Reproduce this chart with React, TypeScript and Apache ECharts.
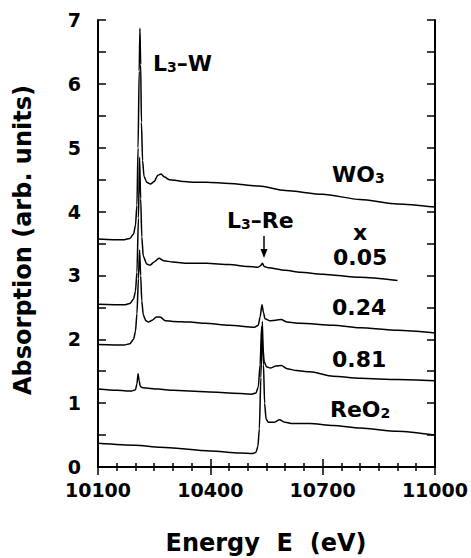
import React, { useEffect, useRef } from "react";
import * as echarts from "echarts";

// Energy (eV) / absorption pairs
const wo3: [number, number][] = [
  [10100, 3.57], [10140, 3.56], [10170, 3.56], [10185, 3.58], [10195, 3.65], [10200, 3.78],
  [10204, 4.1], [10207, 5.0], [10210, 6.2], [10212, 6.87], [10214, 6.3], [10216, 5.4],
  [10219, 4.8], [10223, 4.55], [10230, 4.46], [10240, 4.43], [10250, 4.47], [10260, 4.57],
  [10268, 4.59], [10278, 4.54], [10290, 4.5], [10305, 4.49], [10330, 4.47], [10360, 4.46],
  [10390, 4.46], [10450, 4.44], [10530, 4.4], [10600, 4.33], [10700, 4.27], [10800, 4.19],
  [10900, 4.12], [11000, 4.07],
];
const x005: [number, number][] = [
  [10100, 2.55], [10170, 2.54], [10185, 2.56], [10195, 2.63], [10200, 2.75], [10204, 3.05],
  [10208, 3.9], [10211, 4.85], [10214, 4.2], [10217, 3.6], [10221, 3.3], [10230, 3.18],
  [10239, 3.16], [10250, 3.21], [10263, 3.27], [10275, 3.23], [10300, 3.21], [10340, 3.19],
  [10390, 3.19], [10450, 3.17], [10500, 3.14], [10528, 3.13], [10534, 3.15], [10539, 3.19],
  [10544, 3.14], [10555, 3.12], [10600, 3.08], [10640, 3.05], [10700, 3.02], [10800, 2.97],
  [10900, 2.92],
];
const x024: [number, number][] = [
  [10100, 1.92], [10170, 1.91], [10185, 1.93], [10195, 2.0], [10200, 2.12], [10204, 2.4],
  [10208, 2.95], [10211, 3.4], [10214, 3.0], [10217, 2.6], [10221, 2.38], [10228, 2.29],
  [10234, 2.27], [10245, 2.3], [10256, 2.35], [10266, 2.35], [10280, 2.29], [10300, 2.28],
  [10346, 2.27], [10386, 2.25], [10450, 2.22], [10519, 2.19], [10528, 2.22], [10533, 2.35],
  [10538, 2.54], [10542, 2.42], [10546, 2.32], [10560, 2.29], [10575, 2.3], [10589, 2.31],
  [10605, 2.27], [10640, 2.25], [10728, 2.22], [10800, 2.18], [10900, 2.14], [11000, 2.1],
];
const x081: [number, number][] = [
  [10100, 1.22], [10150, 1.2], [10190, 1.19], [10200, 1.21], [10204, 1.3], [10207, 1.46],
  [10210, 1.35], [10213, 1.26], [10220, 1.24], [10260, 1.22], [10300, 1.2], [10386, 1.18],
  [10450, 1.16], [10511, 1.14], [10522, 1.16], [10528, 1.25], [10533, 1.6], [10537, 2.2],
  [10540, 1.9], [10544, 1.65], [10550, 1.57], [10560, 1.55], [10575, 1.58], [10590, 1.59],
  [10605, 1.54], [10630, 1.51], [10666, 1.49], [10728, 1.42], [10800, 1.39], [10900, 1.37],
  [11000, 1.35],
];
const reo2: [number, number][] = [
  [10100, 0.37], [10200, 0.34], [10266, 0.31], [10400, 0.25], [10479, 0.22], [10514, 0.21],
  [10522, 0.23], [10527, 0.32], [10531, 0.6], [10535, 1.4], [10539, 2.28], [10542, 1.6],
  [10545, 1.0], [10549, 0.75], [10555, 0.7], [10570, 0.7], [10585, 0.74], [10600, 0.7],
  [10620, 0.68], [10666, 0.68], [10728, 0.65], [10800, 0.61], [10900, 0.56], [11000, 0.5],
];
const spectra = [wo3, x005, x024, x081, reo2];

const xTicks = { min: 10100, max: 11000, interval: 300 };
const yTicks = { min: 0, max: 7, interval: 1 };

const FONT = "DejaVu Sans";

export default function App() {
  const ref = useRef<HTMLDivElement>(null);
  useEffect(() => {
    if (!ref.current) return;
    const chart = echarts.init(ref.current, undefined, { renderer: "svg" });
    const axisLine = { show: true, lineStyle: { color: "#000", width: 2 } };
    const labelStyle = {
      color: "#000",
      fontSize: 19,
      fontWeight: "bold",
      fontFamily: FONT,
      formatter: (v: number) => String(v),
    };
    const xBase = {
      type: "value",
      min: xTicks.min,
      max: xTicks.max,
      interval: xTicks.interval,
      axisLine,
      axisTick: { show: true, inside: true, length: 8, lineStyle: { color: "#000", width: 1.5 } },
      minorTick: { show: true, splitNumber: 6, length: 4, lineStyle: { color: "#000", width: 1.5 } },
      splitLine: { show: false },
      minorSplitLine: { show: false },
    };
    const yBase = {
      type: "value",
      min: yTicks.min,
      max: yTicks.max,
      interval: yTicks.interval,
      axisLine,
      axisTick: { show: true, inside: true, length: 8, lineStyle: { color: "#000", width: 1.5 } },
      minorTick: { show: true, splitNumber: 2, length: 8, lineStyle: { color: "#000", width: 1.5 } },
      splitLine: { show: false },
      minorSplitLine: { show: false },
    };
    const big = { fontSize: 22, fontWeight: "bold", fontFamily: FONT, fill: "#000" };
    const rich = {
      m: { fontSize: 22, fontWeight: "bold", fontFamily: FONT, color: "#000", lineHeight: 22 },
      s: { fontSize: 14, fontWeight: "bold", fontFamily: FONT, color: "#000", lineHeight: 4, verticalAlign: "bottom" },
    };
    const txt = (x: number, y: number, text: string, align = "left") => ({
      type: "text",
      x,
      y,
      style: { text, ...big, textAlign: align, textVerticalAlign: "middle", rich },
    });
    chart.setOption({
      animation: false,
      backgroundColor: "#fff",
      grid: { left: 98, right: 36, top: 20, bottom: 91, containLabel: false },
      xAxis: [
        { ...xBase, position: "bottom", axisLabel: { ...labelStyle, margin: 13 } },
        { ...xBase, position: "top", axisLabel: { show: false } },
      ],
      yAxis: [
        { ...yBase, position: "left", axisLabel: { ...labelStyle, margin: 17 } },
        { ...yBase, position: "right", axisLabel: { show: false } },
      ],
      series: spectra.map((d) => ({
        type: "line",
        data: d,
        showSymbol: false,
        smooth: 0.25,
        smoothMonotone: "x",
        lineStyle: { color: "#000", width: 1.5 },
        silent: true,
      })),
      graphic: [
        txt(153, 63, "{m|L}{s|3}{m|–W}"),
        txt(332, 174, "{m|WO}{s|3}"),
        txt(227, 220, "{m|L}{s|3}{m|–Re}"),
        txt(360, 232, "x", "center"),
        txt(333, 257, "0.05"),
        txt(332, 307, "0.24"),
        txt(332, 359, "0.81"),
        txt(330, 409, "{m|ReO}{s|2}"),
        { type: "line", shape: { x1: 264, y1: 236, x2: 264, y2: 252 }, style: { stroke: "#000", lineWidth: 1.5 } },
        { type: "polygon", shape: { points: [[260.5, 249], [267.5, 249], [264, 258]] }, style: { fill: "#000" } },
        {
          type: "text",
          x: 266,
          y: 543,
          style: { text: "Energy  E  (eV)", fontSize: 24, fontWeight: "bold", fontFamily: FONT, fill: "#000", textAlign: "center", textVerticalAlign: "middle" },
        },
        {
          type: "text",
          x: 23,
          y: 240,
          rotation: Math.PI / 2,
          style: { text: "Absorption (arb. units)", fontSize: 24, fontWeight: "bold", fontFamily: FONT, fill: "#000", textAlign: "center", textVerticalAlign: "middle" },
        },
      ],
    });
    return () => chart.dispose();
  }, []);
  return <div ref={ref} style={{ width: 471, height: 558, position: "absolute", left: 0, top: 0 }} />;
}
